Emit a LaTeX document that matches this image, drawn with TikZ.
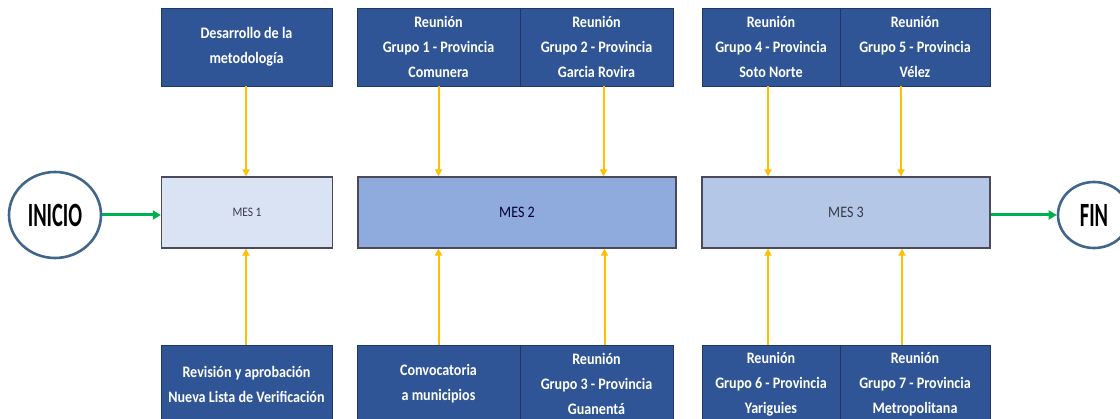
\documentclass[tikz,border=0pt]{standalone}
\usepackage{fontspec}
\setmainfont{Carlito}[FakeStretch=0.88]
\newfontfamily\condfont{Carlito}[FakeStretch=0.6]
\usetikzlibrary{arrows.meta,shapes.geometric}
\definecolor{boxblue}{HTML}{2F5597}
\definecolor{boxedge}{HTML}{1F3864}
\definecolor{mesA}{HTML}{DAE3F3}
\definecolor{mesB}{HTML}{8FAADC}
\definecolor{mesC}{HTML}{B4C7E7}
\definecolor{mesedge}{HTML}{4A4A58}
\definecolor{mestext}{HTML}{3A3A48}
\definecolor{gold}{HTML}{FFC000}
\definecolor{greenarr}{HTML}{00B050}
\definecolor{ringblue}{HTML}{41668C}
\tikzset{
  task/.style={draw=boxedge, line width=0.8pt, fill=boxblue, text=white, inner sep=0pt,
    minimum height=78pt, align=center, font=\fontsize{16}{25}\selectfont\bfseries},
  mes/.style={draw=mesedge, line width=1.3pt, inner sep=0pt, minimum height=71pt, text=mestext},
  ring/.style={ellipse, draw=ringblue, line width=2.6pt, fill=white, inner sep=0pt, text=black,
    font=\condfont\bfseries\fontsize{34}{34}\selectfont},
  feed/.style={draw=gold, line width=2pt, -{Triangle[width=7pt,length=7pt]}},
  flow/.style={draw=greenarr, line width=3pt, -{Triangle[width=9pt,length=8pt]}}
}
\begin{document}
\begin{tikzpicture}[x=1pt,y=-1pt]
\clip (0,0) rectangle (1120,419);
\fill[white] (0,0) rectangle (1120,419);
% top tasks
\node[task, minimum width=171pt] (desa) at (246.5,47) {Desarrollo de la\\metodología};
\node[task, minimum width=163pt] (g1) at (438.5,47) {Reunión\\Grupo 1 - Provincia\\Comunera};
\node[task, minimum width=153pt] (g2) at (596.5,47) {Reunión\\Grupo 2 - Provincia\\Garcia Rovira};
\node[task, minimum width=138pt] (g4) at (771,47) {Reunión\\Grupo 4 - Provincia\\Soto Norte};
\node[task, minimum width=150pt] (g5) at (915,47) {Reunión\\Grupo 5 - Provincia\\Vélez};
% bottom tasks
\node[task, minimum width=171pt] (rev) at (246.5,384) {Revisión y aprobación\\Nueva Lista de Verificación};
\node[task, minimum width=163pt] (conv) at (438.5,384) {Convocatoria\\a municipios};
\node[task, minimum width=153pt] (g3) at (596.5,384) {Reunión\\Grupo 3 - Provincia\\Guanentá};
\node[task, minimum width=138pt] (g6) at (771,384) {Reunión\\Grupo 6 - Provincia\\Yariguies};
\node[task, minimum width=150pt] (g7) at (915,384) {Reunión\\Grupo 7 - Provincia\\Metropolitana};
% months
\node[mes, fill=mesA, minimum width=171pt, font=\fontsize{13}{13}\selectfont] (m1) at (247,212.5) {MES 1};
\node[mes, fill=mesB, minimum width=318pt, font=\fontsize{16}{16}\selectfont, text=black!80!blue] (m2) at (517,212.5) {MES 2};
\node[mes, fill=mesC, minimum width=288pt, font=\fontsize{16}{16}\selectfont] (m3) at (846,212.5) {MES 3};
% start / end
\node[ring, minimum width=92pt, minimum height=86pt] (ini) at (55,215) {INICIO};
\node[ring, minimum width=72pt, minimum height=66pt] (fin) at (1094,215) {FIN};
% connectors
\draw[flow] (ini.east) -- (ini.east -| m1.west);
\draw[flow] (m3.east |- fin.west) -- (fin.west);
\draw[feed] ([xshift=-0.5pt]desa.south) -- ([xshift=-0.5pt]desa.south |- m1.north);
\draw[feed] (g1.south) -- (g1.south |- m2.north);
\draw[feed] ([xshift=7pt]g2.south) -- ([xshift=7pt]g2.south |- m2.north);
\draw[feed] ([xshift=-3pt]g4.south) -- ([xshift=-3pt]g4.south |- m3.north);
\draw[feed] ([xshift=-14pt]g5.south) -- ([xshift=-14pt]g5.south |- m3.north);
\draw[feed] ([xshift=-0.5pt]rev.north) -- ([xshift=-0.5pt]rev.north |- m1.south);
\draw[feed] (conv.north) -- (conv.north |- m2.south);
\draw[feed] ([xshift=8pt]g3.north) -- ([xshift=8pt]g3.north |- m2.south);
\draw[feed] ([xshift=-3pt]g6.north) -- ([xshift=-3pt]g6.north |- m3.south);
\draw[feed] ([xshift=-13pt]g7.north) -- ([xshift=-13pt]g7.north |- m3.south);
\end{tikzpicture}
\end{document}
